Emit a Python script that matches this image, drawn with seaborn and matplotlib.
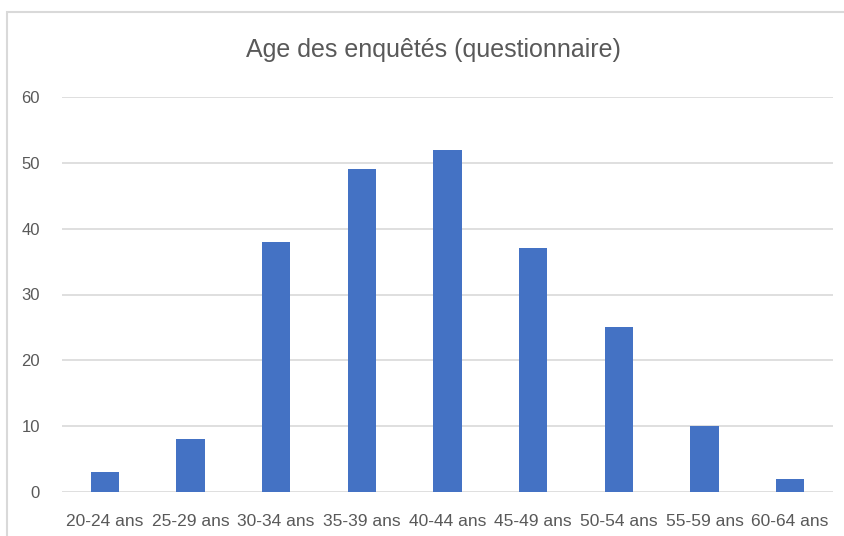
import matplotlib
matplotlib.use("Agg")
import matplotlib.pyplot as plt
import seaborn as sns
import pandas as pd
from matplotlib.patches import Rectangle

categories = ['20-24 ans', '25-29 ans', '30-34 ans', '35-39 ans', '40-44 ans',
              '45-49 ans', '50-54 ans', '55-59 ans', '60-64 ans']
counts = [3, 8, 38, 49, 52, 37, 25, 10, 2]
y_ticks = [0, 10, 20, 30, 40, 50, 60]

sns.set_style("white")
plt.rcParams['font.family'] = ['Liberation Sans', 'DejaVu Sans']

df = pd.DataFrame({'age': categories, 'n': counts})

fig = plt.figure(figsize=(8.45, 5.36), dpi=100)
ax = fig.add_axes([62 / 845, 1 - 492 / 536, (833 - 62) / 845, (492 - 97) / 536])

sns.barplot(data=df, x='age', y='n', color='#4472C4', saturation=1,
            width=0.33, linewidth=0, ax=ax, zorder=3)

ax.set_ylim(0, 60)
ax.set_xlim(-0.5, len(categories) - 0.5)
ax.set_yticks(y_ticks)
ax.yaxis.grid(True, color='#D9D9D9', linewidth=1.2, zorder=0)
ax.set_axisbelow(True)
for side in ['top', 'right', 'left', 'bottom']:
    ax.spines[side].set_visible(False)
ax.tick_params(axis='both', length=0, colors='#595959')
ax.tick_params(axis='y', pad=16, labelsize=12)
ax.tick_params(axis='x', pad=16, labelsize=12.5)
ax.set_xlabel('')
ax.set_ylabel('')

fig.text(433 / 845, 1 - 50 / 536, 'Age des enquêtés (questionnaire)',
         ha='center', va='center', fontsize=18, color='#595959')

# chart frame (Excel-style border, cut off at right and bottom)
fig.patches.append(Rectangle((7 / 845, -0.05), 1.0, 1 - 12.5 / 536 + 0.05,
                             transform=fig.transFigure, fill=False,
                             edgecolor='#D9D9D9', linewidth=1.5))

fig.savefig('out.png', dpi=100, facecolor='white')
